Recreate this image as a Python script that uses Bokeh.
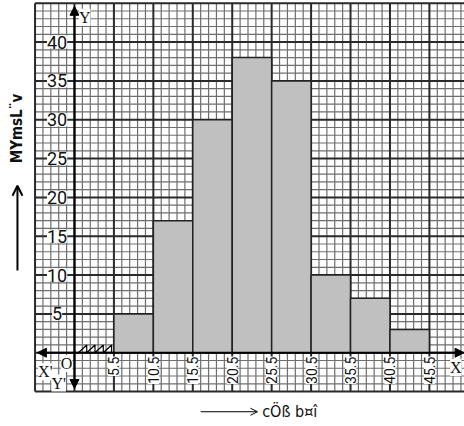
from math import pi
from bokeh.plotting import figure
from bokeh.models import (ColumnDataSource, LabelSet, Label, Arrow, NormalHead,
                          OpenHead, Range1d)
from bokeh.core.properties import value
from bokeh.embed import file_html
from bokeh.resources import INLINE

# ---- data ----
class_left = [5.5, 10.5, 15.5, 20.5, 25.5, 30.5, 35.5, 40.5]
class_right = [10.5, 15.5, 20.5, 25.5, 30.5, 35.5, 40.5, 45.5]
frequency = [5, 17, 30, 38, 35, 10, 7, 3]
x_tick_values = [5.5, 10.5, 15.5, 20.5, 25.5, 30.5, 35.5, 40.5, 45.5]
x_tick_labels = ["5.5", "10.5", "15.5", "20.5", "25.5", "30.5", "35.5", "40.5", "45.5"]
y_tick_values = [5, 10, 15, 20, 25, 30, 35, 40]
y_tick_labels = ["5", "10", "15", "20", "25", "30", "35", "40"]
x_title = "cÖß b¤î"
y_title = "MYmsL¨v"

# visible window in data units (frame covers the whole canvas)
X0, X1 = -8.88, 49.95
Y0, Y1 = -9.5, 45.35
# graph-paper extent
PX0, PY0, PY1 = -4.5, -5.0, 45.0
ORIGIN_X = 0.5

p = figure(width=464, height=426, x_range=Range1d(X0, X1), y_range=Range1d(Y0, Y1),
           x_axis_type=None, y_axis_type=None, output_backend="svg",
           toolbar_location=None, min_border=0, min_border_left=0,
           min_border_right=0, min_border_top=0, min_border_bottom=0)
p.outline_line_color = None
p.background_fill_color = "white"
p.border_fill_color = "white"
p.xgrid.visible = False
p.ygrid.visible = False

# graph paper
vx = [PX0 + k for k in range(0, int(X1 - PX0) + 1)]
hy = [PY0 + k for k in range(0, int(PY1 - PY0) + 1)]
v_major = [x for x in vx if abs((x - ORIGIN_X) / 5 - round((x - ORIGIN_X) / 5)) < 1e-9]
v_minor = [x for x in vx if x not in v_major]
h_major = [y for y in hy if int(y) % 5 == 0]
h_minor = [y for y in hy if y not in h_major]
p.segment(x0=v_minor, x1=v_minor, y0=[PY0] * len(v_minor), y1=[PY1] * len(v_minor),
          line_color="#6e6e6e", line_width=1.2)
p.segment(x0=[PX0] * len(h_minor), x1=[X1 + 1] * len(h_minor), y0=h_minor, y1=h_minor,
          line_color="#6e6e6e", line_width=1.2)
p.segment(x0=v_major, x1=v_major, y0=[PY0] * len(v_major), y1=[PY1] * len(v_major),
          line_color="#2a2a2a", line_width=2)
p.segment(x0=[PX0] * len(h_major), x1=[X1 + 1] * len(h_major), y0=h_major, y1=h_major,
          line_color="#2a2a2a", line_width=2)

# histogram bars
src = ColumnDataSource(dict(left=class_left, right=class_right, top=frequency,
                            bottom=[0] * len(frequency)))
p.quad(left="left", right="right", top="top", bottom="bottom", source=src,
       fill_color="#c0c0c0", line_color="#222222", line_width=1.5)

# axes with arrows
def head():
    return NormalHead(size=9, fill_color="black", line_color="black")

p.add_layout(Arrow(start=head(), end=head(), x_start=PX0 + 0.3, y_start=0,
                   x_end=X1 - 0.05, y_end=0, line_width=2, line_color="black"))
p.add_layout(Arrow(start=head(), end=head(), x_start=ORIGIN_X, y_start=PY0 + 0.4,
                   x_end=ORIGIN_X, y_end=PY1 - 0.4, line_width=2, line_color="black"))

# axis break (zigzag)
zx, zy = [], []
n_teeth, tooth_w, tooth_h = 4, 1.05, 1.0
start = ORIGIN_X + 0.5
for i in range(n_teeth):
    zx += [start + i * tooth_w, start + (i + 1) * tooth_w, start + (i + 1) * tooth_w]
    zy += [0, tooth_h, 0]
p.line(zx, zy, line_color="black", line_width=1.2)

# tick labels
ysrc = ColumnDataSource(dict(y=y_tick_values, text=y_tick_labels))
p.add_layout(LabelSet(x=-1.7, y="y", text="text", source=ysrc, text_align="center",
                      text_baseline="middle", text_font=value("Roboto"),
                      text_font_size="18px", text_color="#111111",
                      background_fill_color="white"))
xsrc = ColumnDataSource(dict(x=x_tick_values, text=x_tick_labels))
p.add_layout(LabelSet(x="x", y=-0.5, text="text", source=xsrc, angle=pi / 2,
                      text_align="right", text_baseline="middle",
                      text_font=value("Roboto"), text_font_size="14px",
                      text_color="#111111", background_fill_color="white"))

# axis letters
for txt, xx, yy in [("Y", 1.8, 43.2), ("O", -0.5, -1.4), ("X'", -3.2, -2.45),
                    ("Y'", -1.5, -3.9), ("X", 48.85, -1.9)]:
    p.add_layout(Label(x=xx, y=yy, text=txt, text_font="Liberation Serif",
                       text_font_size="16px", text_align="center",
                       text_baseline="middle", text_color="#111111",
                       background_fill_color="white"))

# axis titles with arrows
p.add_layout(Arrow(end=OpenHead(size=10, line_width=2, line_color="black"),
                   x_start=-6.73, y_start=10.6, x_end=-6.73, y_end=21.5,
                   line_width=2, line_color="black"))
p.add_layout(Label(x=-6.73, y=24.4, text=y_title, angle=pi / 2, text_align="left",
                   text_baseline="middle", text_font="DejaVu Sans Condensed",
                   text_font_size="15px", text_font_style="bold", text_color="#111111"))
p.add_layout(Arrow(end=OpenHead(size=7, line_width=1, line_color="black"),
                   x_start=16.5, y_start=-7.6, x_end=23.7, y_end=-7.6,
                   line_width=1, line_color="black"))
p.add_layout(Label(x=24.3, y=-7.6, text=x_title, text_align="left",
                   text_baseline="middle", text_font="DejaVu Sans Condensed",
                   text_font_size="16px", text_color="#111111"))

open("out.html", "w").write(file_html(p, INLINE))
